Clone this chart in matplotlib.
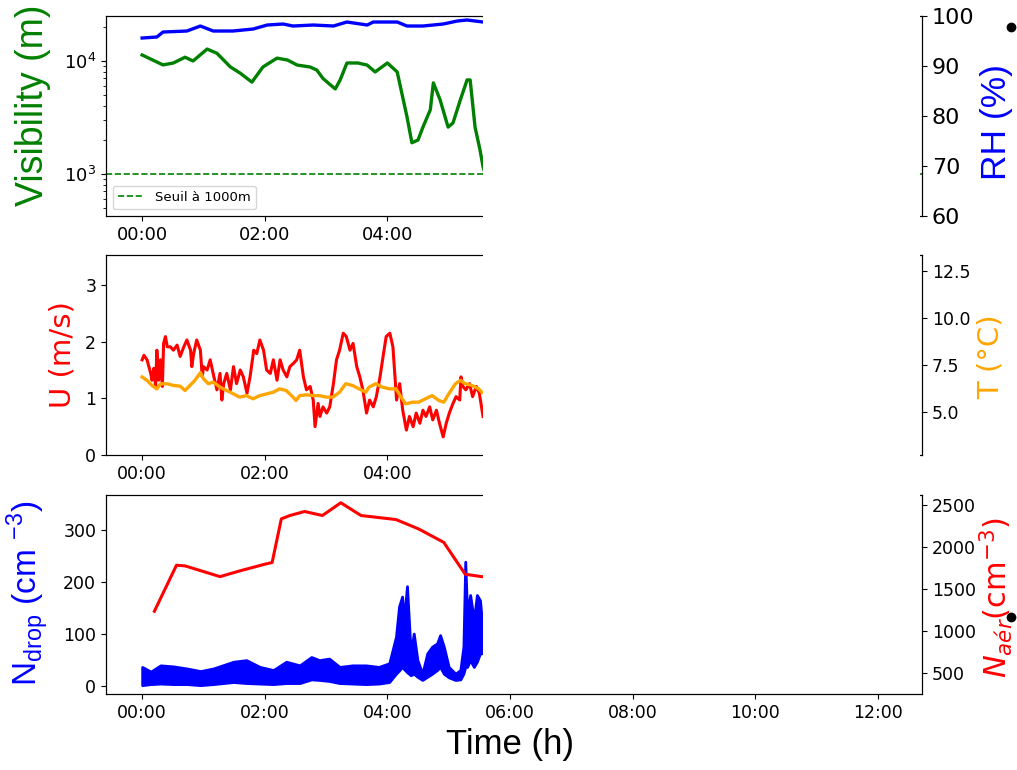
import matplotlib.pyplot as plt
from matplotlib.patches import Rectangle
from matplotlib.lines import Line2D
from matplotlib.ticker import FuncFormatter, MultipleLocator

# visibilite (m) et humidite relative (%)
t_vis = [0.00, 0.34, 0.51, 0.70, 0.83, 1.06, 1.22, 1.44, 1.60, 1.79, 1.97, 2.20, 2.37,
         2.53, 2.74, 2.85, 2.95, 3.07, 3.15, 3.23, 3.34, 3.52, 3.67, 3.80, 4.00, 4.16,
         4.32, 4.40, 4.50, 4.58, 4.70, 4.75, 4.86, 4.99, 5.07, 5.19, 5.30, 5.35, 5.43,
         5.51, 5.56, 5.65]
vis = [11300, 9230, 9600, 10800, 10000, 12750, 11700, 8850, 7800, 6500, 8850, 10600, 10200,
       9200, 8850, 8300, 7000, 6150, 5660, 6800, 9600, 9600, 9200, 8000, 9600, 8000,
       3200, 1890, 2000, 2600, 3700, 6400, 4530, 2600, 2830, 4530, 6800, 6800, 2600,
       1640, 1160, 800]
t_rh = [0.00, 0.24, 0.34, 0.73, 0.95, 1.16, 1.48, 1.81, 2.04, 2.30, 2.46, 2.79, 3.12,
        3.34, 3.67, 3.77, 4.16, 4.32, 4.58, 4.91, 5.14, 5.30, 5.56, 5.65]
rh = [95.6, 95.8, 96.8, 97.0, 98.0, 97.0, 97.0, 97.4, 98.2, 98.4, 98.0, 98.2, 98.0,
      98.8, 98.2, 98.8, 98.8, 98.0, 98.0, 98.4, 99.0, 99.2, 98.8, 98.8]

# vent U (m/s) et temperature (degC)
t_u = [0.00, 0.03, 0.08, 0.14, 0.16, 0.19, 0.22, 0.24, 0.27, 0.30, 0.33, 0.35, 0.38, 0.41,
       0.46, 0.51, 0.57, 0.62, 0.68, 0.73, 0.79, 0.81, 0.84, 0.89, 0.95, 0.98, 1.00, 1.06,
       1.11, 1.17, 1.22, 1.27, 1.30, 1.33, 1.38, 1.44, 1.49, 1.54, 1.60, 1.65, 1.71, 1.76,
       1.82, 1.87, 1.92, 1.98, 2.03, 2.09, 2.14, 2.20, 2.25, 2.30, 2.36, 2.41, 2.47, 2.52,
       2.57, 2.63, 2.68, 2.74, 2.79, 2.82, 2.87, 2.90, 2.95, 3.01, 3.06, 3.12, 3.17, 3.22,
       3.28, 3.33, 3.39, 3.44, 3.50, 3.55, 3.60, 3.66, 3.71, 3.77, 3.82, 3.88, 3.93, 3.98,
       4.04, 4.09, 4.15, 4.20, 4.25, 4.31, 4.36, 4.42, 4.47, 4.53, 4.58, 4.63, 4.69, 4.74,
       4.80, 4.85, 4.91, 4.96, 5.01, 5.07, 5.12, 5.18, 5.20, 5.23, 5.28, 5.34, 5.39, 5.45,
       5.50, 5.56]
u = [1.68, 1.76, 1.68, 1.44, 1.32, 1.53, 1.21, 1.85, 1.32, 1.68, 1.21, 1.97, 2.09, 1.91,
     1.91, 1.85, 1.94, 1.74, 1.91, 2.03, 1.85, 1.56, 1.79, 2.03, 1.85, 1.38, 1.56, 1.50,
     1.68, 1.38, 1.15, 1.44, 0.97, 1.26, 1.44, 1.15, 1.56, 1.26, 1.50, 1.38, 1.09, 1.38,
     1.85, 1.79, 2.03, 1.85, 1.50, 1.44, 1.68, 1.32, 1.68, 1.50, 1.38, 1.56, 1.62, 1.68,
     1.85, 1.38, 1.15, 1.21, 0.97, 0.50, 0.91, 0.68, 0.85, 0.74, 0.85, 1.26, 1.68, 1.85,
     2.15, 2.09, 1.85, 1.97, 1.56, 1.38, 1.15, 0.74, 0.97, 0.85, 1.03, 1.38, 1.74, 2.09,
     2.15, 1.91, 0.97, 1.26, 0.79, 0.44, 0.68, 0.50, 0.74, 0.56, 0.79, 0.68, 0.85, 0.62,
     0.79, 0.56, 0.32, 0.56, 0.74, 0.91, 1.03, 0.97, 1.38, 1.21, 1.15, 1.26, 1.03, 1.21,
     1.09, 0.68]
t_temp = [0.00, 0.08, 0.16, 0.24, 0.30, 0.41, 0.51, 0.62, 0.70, 0.78, 0.86, 0.95, 1.00,
          1.08, 1.16, 1.27, 1.38, 1.49, 1.59, 1.70, 1.81, 1.92, 2.03, 2.14, 2.24, 2.35,
          2.46, 2.51, 2.57, 2.68, 2.78, 2.89, 3.00, 3.11, 3.22, 3.32, 3.43, 3.54, 3.65,
          3.70, 3.81, 3.92, 4.03, 4.14, 4.24, 4.30, 4.41, 4.51, 4.62, 4.73, 4.84, 4.92,
          5.00, 5.11, 5.19, 5.27, 5.38, 5.49, 5.54]
temp = [6.86, 6.68, 6.41, 6.23, 6.50, 6.50, 6.41, 6.37, 6.14, 6.41, 6.68, 7.09, 6.77,
        6.50, 6.59, 6.32, 6.14, 5.96, 5.79, 5.87, 5.70, 5.87, 5.96, 6.05, 6.23, 6.14,
        5.79, 5.61, 5.87, 5.91, 5.87, 5.87, 5.79, 5.79, 6.05, 6.50, 6.41, 6.23, 6.05,
        6.32, 6.50, 6.32, 6.23, 6.23, 5.70, 5.43, 5.52, 5.52, 5.70, 5.87, 5.61, 5.52,
        5.96, 6.50, 6.68, 6.50, 6.41, 6.23, 6.05]

# N_drop : enveloppe basse / haute du signal (cm-3) ; N_aer (cm-3)
t_nd = [0.00, 0.14, 0.30, 0.51, 0.73, 0.95, 1.16, 1.49, 1.70, 1.92, 2.14, 2.35, 2.57,
        2.76, 2.89, 3.05, 3.22, 3.43, 3.65, 3.86, 4.03, 4.14, 4.19, 4.24, 4.27, 4.32,
        4.38, 4.43, 4.49, 4.57, 4.65, 4.73, 4.81, 4.86, 4.92, 5.00, 5.11, 5.19, 5.24,
        5.27, 5.30, 5.35, 5.41, 5.46, 5.51, 5.54]
nd_lo = [2, 4, 5, 4, 4, 2, 4, 8, 6, 5, 4, 6, 6, 13, 12, 10, 6, 5, 4, 5, 8, 24, 30, 37, 33,
         27, 21, 24, 18, 12, 18, 24, 31, 37, 24, 17, 12, 13, 24, 37, 37, 50, 37, 47, 63, 63]
nd_hi = [37, 28, 40, 38, 34, 29, 34, 47, 50, 37, 31, 47, 40, 56, 50, 53, 37, 40, 40, 37,
         44, 95, 153, 172, 127, 192, 63, 101, 50, 24, 63, 76, 82, 98, 76, 37, 24, 31, 76,
         239, 140, 175, 127, 175, 165, 127]
t_na = [0.20, 0.56, 0.70, 1.27, 1.59, 2.00, 2.12, 2.27, 2.41, 2.65, 2.94, 3.24, 3.57,
        4.14, 4.51, 4.92, 5.27, 5.54, 5.65]
na = [1236, 1784, 1776, 1648, 1716, 1796, 1816, 2336, 2376, 2424, 2376, 2528, 2376,
      2328, 2216, 2056, 1676, 1648, 1640]

heures = [0, 2, 4, 6, 8, 10, 12]
seuil = 1000

fig = plt.figure(figsize=(10.17, 7.7), dpi=100)
hhmm = FuncFormatter(lambda x, p: '%02d:00' % x)

# --- visibilite / RH ---
ax1 = fig.add_axes([0.1042, 0.7195, 0.8024, 0.2597])
ax1.plot(t_vis, vis, color='green', lw=2.4)
ax1.axhline(seuil, color='green', ls='--', lw=1.2, label='Seuil à 1000m')
ax1.set_yscale('log')
ax1.set_ylim(425, 25000)
ax1.legend(loc='lower left', fontsize=9.5)
ax1.set_ylabel('Visibility (m)', color='green', fontsize=27, family='Liberation Sans', va='center')
ax1.yaxis.set_label_coords(-0.0895, 0.555)
ax1b = ax1.twinx()
ax1b.plot(t_rh, rh, color='blue', lw=2.4)
ax1b.set_ylim(60, 100)
ax1b.yaxis.set_major_locator(MultipleLocator(10))
ax1b.tick_params(labelsize=16)
ax1b.set_ylabel('RH (%)', color='blue', fontsize=25.5, family='Liberation Sans', va='center')
ax1b.yaxis.set_label_coords(1.0907, 0.47)
ax1.tick_params(labelsize=13)

# --- vent / temperature ---
ax2 = fig.add_axes([0.1042, 0.4091, 0.8024, 0.2597])
ax2.plot(t_u, u, color='red', lw=2.2)
ax2.set_ylim(0, 3.53)
ax2.yaxis.set_major_locator(MultipleLocator(1))
ax2.tick_params(labelsize=12.5)
ax2.set_ylabel('U (m/s)', color='red', fontsize=21, va='center')
ax2.yaxis.set_label_coords(-0.0527, 0.5)
ax2b = ax2.twinx()
ax2b.plot(t_temp, temp, color='orange', lw=2.4)
ax2b.set_ylim(2.71, 13.35)
ax2b.yaxis.set_major_locator(MultipleLocator(2.5))
ax2b.tick_params(labelsize=12.5)
ax2b.set_ylabel('T (°C)', color='orange', fontsize=21, va='center')
ax2b.yaxis.set_label_coords(1.0846, 0.49)

# --- N_drop / N_aer ---
ax3 = fig.add_axes([0.1042, 0.0987, 0.8024, 0.2584])
ax3.fill_between(t_nd, nd_lo, nd_hi, color='blue', lw=2)
ax3.set_ylim(-15, 367)
ax3.yaxis.set_major_locator(MultipleLocator(100))
ax3.tick_params(labelsize=12.5)
ax3.set_ylabel(r'N$_{\mathregular{drop}}$ (cm $^{\mathregular{-3}}$)', color='blue', fontsize=24,
               family='Liberation Sans', va='center')
ax3.yaxis.set_label_coords(-0.0968, 0.508)
ax3.set_xlabel('Time (h)', fontsize=25, family='Liberation Sans', va='center')
ax3.xaxis.set_label_coords(0.495, -0.256)
ax3b = ax3.twinx()
ax3b.plot(t_na, na, color='red', lw=2.2)
ax3b.set_ylim(250, 2620)
ax3b.yaxis.set_major_locator(MultipleLocator(500))
ax3b.tick_params(labelsize=12.5)
ax3b.set_ylabel('$N_{aér}$(cm$^{-3}$)', color='red', fontsize=22, va='center')
ax3b.yaxis.set_label_coords(1.0907, 0.487)

for ax in (ax1, ax2, ax3):
    ax.set_xlim(-0.59, 12.72)
    ax.set_xticks(heures)
    ax.xaxis.set_major_formatter(hhmm)
ax3.tick_params(axis='x', labelsize=12.5)
ax2.tick_params(axis='x', labelsize=12.5)

# cache blanc sur la partie droite des graphes
fig.add_artist(Rectangle((0.4749, 0.1006), 0.4297, 0.8994, transform=fig.transFigure,
                         facecolor='white', edgecolor='none', zorder=10))

# puces
for yy in (0.965, 0.1987):
    fig.add_artist(Line2D([0.994], [yy], marker='o', color='black', markersize=6,
                          transform=fig.transFigure, zorder=11))

fig.savefig('out.png', dpi=100)
